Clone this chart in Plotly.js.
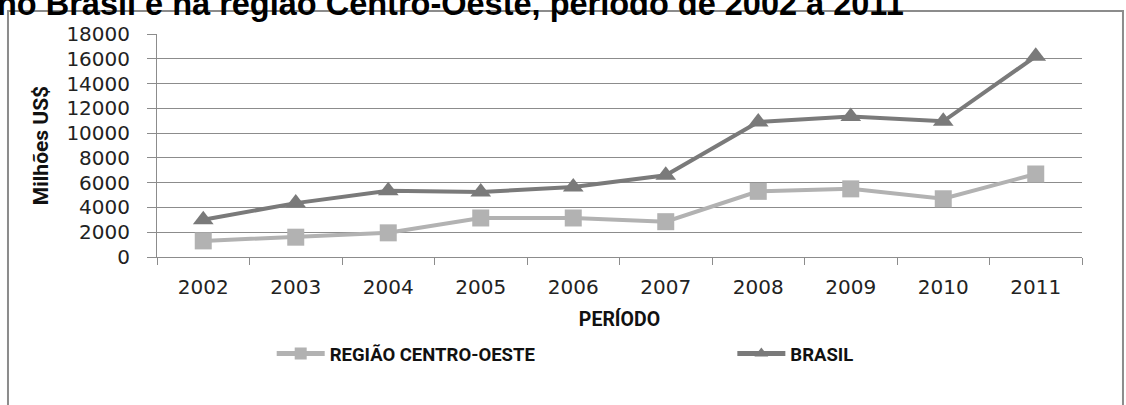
<!DOCTYPE html>
<html>
<head>
<meta charset="utf-8">
<script src="https://cdn.plot.ly/plotly-3.0.1.min.js"></script>
<style>html,body{margin:0;padding:0;background:#fff;}#chart{width:1126px;height:405px;}</style>
</head>
<body>
<div id="chart"></div>
<script>
const years = ["2002","2003","2004","2005","2006","2007","2008","2009","2010","2011"];
const centroOeste = [1300, 1600, 1950, 3150, 3150, 2850, 5300, 5500, 4700, 6700];
const brasil = [3000, 4350, 5350, 5250, 5650, 6600, 10900, 11350, 10950, 16200];
const seriesNames = ["REGIÃO CENTRO-OESTE", "BRASIL"];
const titleText = "no Brasil e na região Centro-Oeste, período de 2002 a 2011";
const yTitle = "Milhões US$";
const xTitle = "PERÍODO";

const traces = [
  {
    x: years, y: centroOeste, name: seriesNames[0], type: "scatter", mode: "lines+markers",
    line: {color: "#b2b2b2", width: 4},
    marker: {symbol: "square", size: 17, color: "#b2b2b2"},
    legend: "legend"
  },
  {
    x: years, y: brasil, name: seriesNames[1], type: "scatter", mode: "lines+markers",
    line: {color: "#7a7a7a", width: 4},
    marker: {symbol: "triangle-up", size: 18, color: "#7a7a7a"},
    legend: "legend2"
  }
];

const legendFont = {family: "Roboto", size: 18.5, color: "#111", weight: "bold"};

const layout = {
  width: 1126, height: 405,
  margin: {l: 157, r: 44, t: 34, b: 148},
  paper_bgcolor: "#ffffff", plot_bgcolor: "#ffffff",
  showlegend: true,
  title: {
    text: "<b>" + titleText + "</b>",
    font: {family: "Liberation Sans", size: 32.5, color: "#000"},
    x: 0, xref: "container", xanchor: "left",
    y: 0.99, yref: "container", yanchor: "middle", pad: {t: 0, l: -3}
  },
  xaxis: {
    type: "category", range: [-0.5, 9.5],
    showline: true, linecolor: "#8c8c8c", linewidth: 1,
    showgrid: false, zeroline: false,
    ticks: "outside", tickson: "boundaries", ticklen: 7, tickcolor: "#8c8c8c", tickwidth: 1,
    ticklabelstandoff: 12,
    tickfont: {family: "DejaVu Sans", size: 20, color: "#222"},
    title: {text: "<b>" + xTitle + "</b>", font: {family: "Roboto", size: 19.5, color: "#111"}, standoff: 14},
    automargin: false, fixedrange: true
  },
  yaxis: {
    range: [0, 18000], dtick: 2000, tick0: 0, tickformat: "d",
    showline: true, linecolor: "#8c8c8c", linewidth: 1,
    showgrid: true, gridcolor: "#8c8c8c", gridwidth: 1,
    zeroline: false,
    ticks: "outside", ticklen: 9, tickcolor: "#8c8c8c", tickwidth: 1,
    ticklabelstandoff: 13,
    tickfont: {family: "DejaVu Sans", size: 20, color: "#222"},
    title: {text: "<b>" + yTitle + "</b>", font: {family: "Roboto", size: 21, color: "#111"}, standoff: 12},
    automargin: false, fixedrange: true
  },
  legend: {
    orientation: "h", x: 0.124, xanchor: "left", y: -0.435, yanchor: "middle",
    itemwidth: 48, itemsizing: "constant", font: legendFont,
    bgcolor: "rgba(0,0,0,0)", itemclick: false, itemdoubleclick: false
  },
  legend2: {
    orientation: "h", x: 0.622, xanchor: "left", y: -0.435, yanchor: "middle",
    itemwidth: 48, itemsizing: "constant", font: legendFont,
    bgcolor: "rgba(0,0,0,0)", itemclick: false, itemdoubleclick: false
  },
  shapes: [
    {type: "rect", xref: "paper", yref: "paper", x0: -0.1611, x1: 1.0443, y0: -0.75, y1: 1.1031,
     line: {color: "#8c8c8c", width: 2}, fillcolor: "rgba(0,0,0,0)", layer: "below"}
  ]
};

Plotly.newPlot("chart", traces, layout, {displayModeBar: false, staticPlot: true});
</script>
</body>
</html>
